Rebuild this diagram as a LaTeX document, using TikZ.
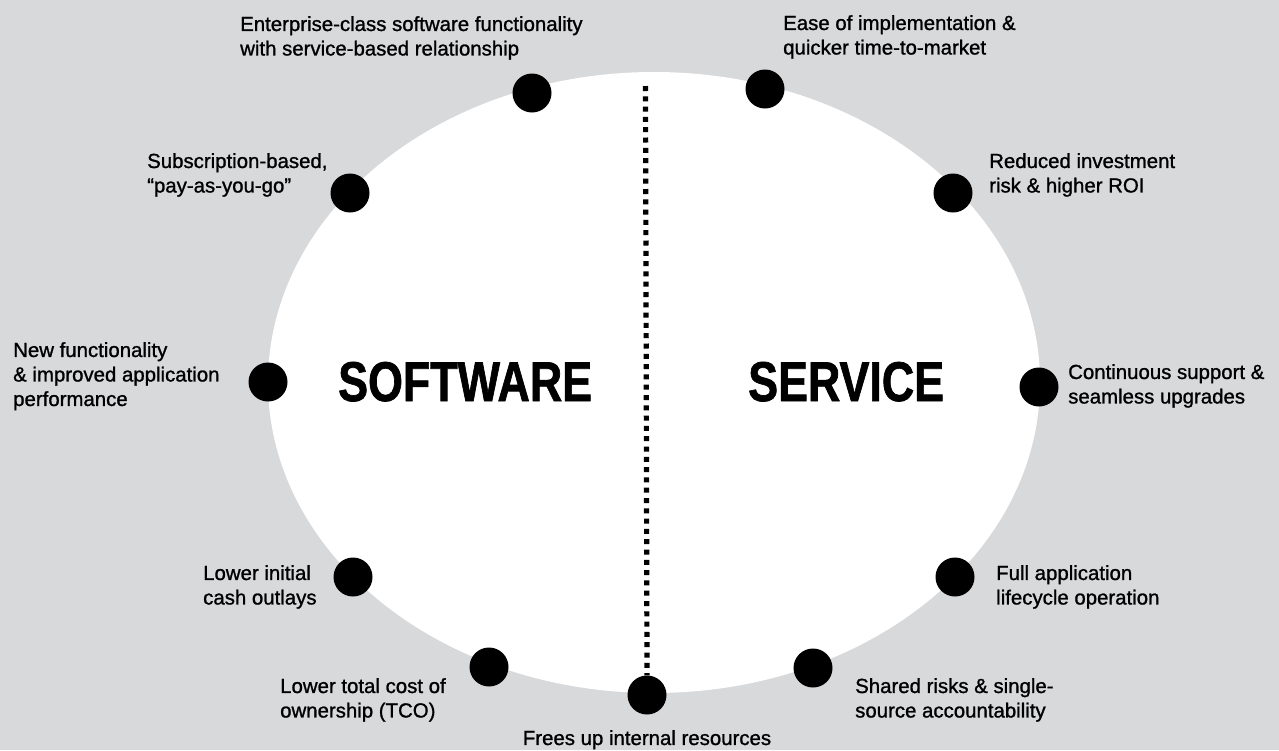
\documentclass[tikz,border=0pt]{standalone}
\usepackage{fontspec}
\setmainfont[FakeBold=1.1]{Liberation Sans}
\newfontfamily\titlefont[FakeStretch=0.8,FakeBold=1.2]{Liberation Sans}
\definecolor{bggray}{RGB}{216,217,219}
\tikzset{
  dot/.style={circle,fill=black,minimum size=39pt,inner sep=0pt},
  benefit/.style={anchor=north west,inner sep=0pt,align=left,font=\fontsize{20.4}{24.5}\selectfont},
  heading/.style={anchor=base west,inner sep=0pt,font=\titlefont\bfseries\fontsize{56}{60}\selectfont},
  divider/.style={line width=5.2pt,dash pattern=on 5pt off 5.3pt}
}

\begin{document}
\begin{tikzpicture}[x=1pt,y=-1pt]
      \fill[bggray] (0,0) rectangle (1279,750);
      \useasboundingbox (0,0) rectangle (1279,750);
      \fill[white] (654,382.5) ellipse [x radius=386, y radius=310.5];

      \node[heading] (software) at (338,401) {SOFTWARE};
      \node[heading] (service) at (748,401) {SERVICE};

      \node[dot] (d-enterprise) at (532,93) {};
      \node[dot] (d-ease) at (765,89) {};
      \node[dot] (d-subscription) at (350,193) {};
      \node[dot] (d-reduced) at (953,193) {};
      \node[dot] (d-newfunc) at (268,382) {};
      \node[dot] (d-continuous) at (1039,387) {};
      \node[dot] (d-initial) at (353,577) {};
      \node[dot] (d-lifecycle) at (955,577) {};
      \node[dot] (d-tco) at (489,667) {};
      \node[dot] (d-shared) at (813,668) {};
      \node[dot] (d-frees) at (647,695) {};

      \coordinate (divtop) at (645.5,86);
      \draw[divider] (divtop) -- (d-frees.north);

      \node[benefit] (enterprise) at (240,16) {Enterprise-class software functionality\\with service-based relationship};
      \node[benefit] (ease) at (783,15) {Ease of implementation \&\\quicker time-to-market};
      \node[benefit] (subscription) at (147,153) {Subscription-based,\\“pay-as-you-go”};
      \node[benefit] (reduced) at (989,153) {Reduced investment\\risk \& higher ROI};
      \node[benefit] (newfunc) at (13,342) {New functionality\\\& improved application\\performance};
      \node[benefit] (continuous) at (1068,364) {Continuous support \&\\seamless upgrades};
      \node[benefit] (initial) at (203,565) {Lower initial\\cash outlays};
      \node[benefit] (lifecycle) at (996,565) {Full application\\lifecycle operation};
      \node[benefit] (tco) at (280,678) {Lower total cost of\\ownership (TCO)};
      \node[benefit] (shared) at (855,678) {Shared risks \& single-\\source accountability};
      \node[benefit,anchor=north] (frees) at (647,730) {Frees up internal resources};
\end{tikzpicture}
\end{document}
